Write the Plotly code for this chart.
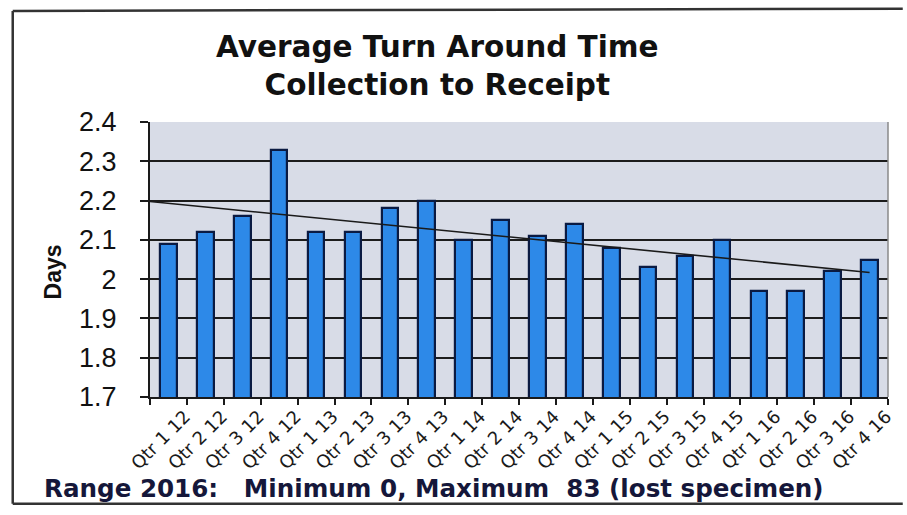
import numpy as np
import plotly.graph_objects as go

# Quarterly average turn-around time (days), collection to receipt
quarters = ["Qtr 1 12", "Qtr 2 12", "Qtr 3 12", "Qtr 4 12",
            "Qtr 1 13", "Qtr 2 13", "Qtr 3 13", "Qtr 4 13",
            "Qtr 1 14", "Qtr 2 14", "Qtr 3 14", "Qtr 4 14",
            "Qtr 1 15", "Qtr 2 15", "Qtr 3 15", "Qtr 4 15",
            "Qtr 1 16", "Qtr 2 16", "Qtr 3 16", "Qtr 4 16"]
avg_days = [2.09, 2.12, 2.16, 2.33,
            2.12, 2.12, 2.18, 2.20,
            2.10, 2.15, 2.11, 2.14,
            2.08, 2.03, 2.06, 2.10,
            1.97, 1.97, 2.02, 2.05]
y_ticks = [1.7, 1.8, 1.9, 2.0, 2.1, 2.2, 2.3, 2.4]
y_tick_text = ["1.7", "1.8", "1.9", "2", "2.1", "2.2", "2.3", "2.4"]

pos = np.arange(1, len(quarters) + 1)

# Linear trend line (least squares), drawn from the left edge to the last quarter
slope, intercept = np.polyfit(pos, avg_days, 1)
trend_x = np.array([0.5, pos[-1]])
trend_y = slope * trend_x + intercept

fig = go.Figure()
fig.add_trace(go.Bar(
    x=pos, y=avg_days, width=0.45,
    marker=dict(color="#2d89e8", line=dict(color="#0a1a42", width=2.2)),
))
fig.add_trace(go.Scatter(
    x=trend_x, y=trend_y, mode="lines",
    line=dict(color="#1a1a1a", width=1.6),
))

# outer frame and plot-area edge (paper coordinates)
shapes = [
    dict(type="line", xref="paper", yref="paper", x0=-0.186, x1=1.02, y0=1.404, y1=1.412,
         line=dict(color="#333", width=2.5)),
    dict(type="line", xref="paper", yref="paper", x0=-0.186, x1=-0.186, y0=1.404, y1=-0.388,
         line=dict(color="#333", width=2.5)),
    dict(type="line", xref="paper", yref="paper", x0=-0.186, x1=1.02, y0=-0.388, y1=-0.388,
         line=dict(color="#333", width=2.5)),
    dict(type="line", xref="paper", yref="paper", x0=1, x1=1, y0=0, y1=1,
         line=dict(color="#8a8a8a", width=1.5)),
]

annotations = [
    dict(text="<b>Average Turn Around Time<br>Collection to Receipt</b>",
         xref="paper", yref="paper", x=0.389, y=1.205, xanchor="center", yanchor="middle",
         showarrow=False, font=dict(family="DejaVu Sans", size=29.5, color="#111")),
    dict(text="<b>Days</b>", textangle=-90,
         xref="paper", yref="paper", x=-0.132, y=0.455, xanchor="center", yanchor="middle",
         showarrow=False, font=dict(family="Liberation Sans, Arial", size=23, color="#111")),
    dict(text="<b>Range 2016:\u00a0\u00a0\u00a0Minimum 0, Maximum\u00a0\u00a083 (lost specimen)</b>",
         xref="paper", yref="paper", x=-0.146, y=-0.333, xanchor="left", yanchor="middle",
         showarrow=False, font=dict(family="DejaVu Sans", size=24.6, color="#15173a")),
]

fig.update_layout(
    width=907, height=515,
    margin=dict(l=150, r=15, t=122, b=118),
    paper_bgcolor="white",
    plot_bgcolor="#d8dce7",
    showlegend=False,
    bargap=0,
    shapes=shapes,
    annotations=annotations,
)

fig.update_xaxes(
    range=[0.5, 20.5],
    tickmode="array", tickvals=pos + 0.45, ticktext=quarters,
    tickangle=-45, ticks="", showgrid=False, zeroline=False,
    tickfont=dict(family="DejaVu Sans", size=18, color="#1a1a1a"),
    showline=True, linecolor="#1a1a1a", linewidth=2,
    minor=dict(tickmode="array", tickvals=np.arange(0.5, 21, 1.0),
               ticks="outside", ticklen=6, tickwidth=1.5, tickcolor="#1a1a1a", showgrid=False),
)
fig.update_yaxes(
    range=[1.7, 2.4],
    tickmode="array", tickvals=y_ticks, ticktext=y_tick_text,
    ticks="outside", ticklen=8, tickwidth=2, tickcolor="#1a1a1a",
    ticklabelstandoff=18,
    showgrid=True, gridcolor="#1c1c1c", gridwidth=2, zeroline=False,
    showline=True, linecolor="#1a1a1a", linewidth=2,
    tickfont=dict(family="Liberation Sans, Arial", size=27, color="#111"),
)

fig.write_html("out.html")
